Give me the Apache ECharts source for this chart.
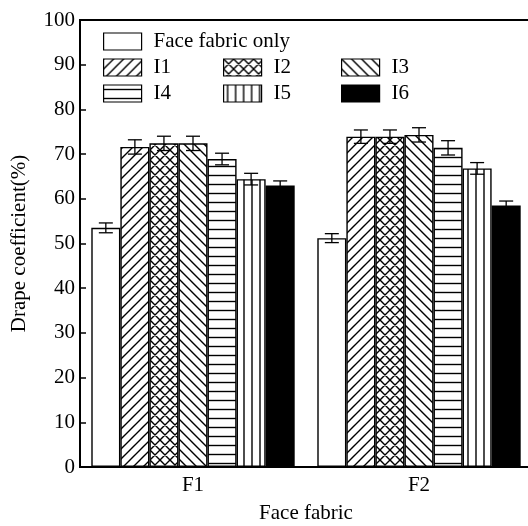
<!DOCTYPE html>
<html>
<head>
<meta charset="utf-8">
<script src="https://cdn.jsdelivr.net/npm/echarts@6/dist/echarts.min.js"></script>
<style>
  html, body { margin: 0; padding: 0; background: #fff; }
  #chart { width: 528px; height: 526px; }
</style>
</head>
<body>
<div id="chart"></div>
<script>
// Drape coefficient by face fabric and interlining
const categories = ['F1', 'F2'];
const seriesNames = ['Face fabric only', 'I1', 'I2', 'I3', 'I4', 'I5', 'I6'];

const faceOnlyValues = [53.5, 51.2];
const i1Values = [71.6, 73.9];
const i2Values = [72.4, 73.9];
const i3Values = [72.4, 74.3];
const i4Values = [68.9, 71.4];
const i5Values = [64.4, 66.8];
const i6Values = [63.0, 58.5];

const faceOnlyErr = [1.1, 1.0];
const i1Err = [1.6, 1.5];
const i2Err = [1.6, 1.5];
const i3Err = [1.6, 1.6];
const i4Err = [1.3, 1.6];
const i5Err = [1.3, 1.3];
const i6Err = [1.0, 1.0];

const yTicks = { min: 0, max: 100, interval: 10 };

const allValues = [faceOnlyValues, i1Values, i2Values, i3Values, i4Values, i5Values, i6Values];
const allErrs = [faceOnlyErr, i1Err, i2Err, i3Err, i4Err, i5Err, i6Err];

const FONT = '"Liberation Serif", "Times New Roman", serif';
const CATEGORY_GAP = 0.10;

// Hatch fill tiles
function hatch(kind) {
  if (kind === 'white') return '#ffffff';
  if (kind === 'black') return '#000000';
  const s = kind === 'horiz' ? 9 : (kind === 'vert' ? 8 : 10);
  const c = document.createElement('canvas');
  c.width = s; c.height = s;
  const g = c.getContext('2d');
  g.fillStyle = '#fff';
  g.fillRect(0, 0, s, s);
  g.strokeStyle = '#000';
  g.lineWidth = 1.4;
  g.beginPath();
  const fwd = () => {
    g.moveTo(-1, s + 1); g.lineTo(s + 1, -1);
    g.moveTo(-1, 1); g.lineTo(1, -1);
    g.moveTo(s - 1, s + 1); g.lineTo(s + 1, s - 1);
  };
  const back = () => {
    g.moveTo(-1, -1); g.lineTo(s + 1, s + 1);
    g.moveTo(s - 1, -1); g.lineTo(s + 1, 1);
    g.moveTo(-1, s - 1); g.lineTo(1, s + 1);
  };
  if (kind === 'fwd') fwd();
  if (kind === 'back') back();
  if (kind === 'cross') { fwd(); back(); }
  if (kind === 'horiz') { g.moveTo(0, s / 2); g.lineTo(s, s / 2); }
  if (kind === 'vert') { g.moveTo(s / 2, 0); g.lineTo(s / 2, s); }
  g.stroke();
  return { image: c, repeat: 'repeat' };
}

const fills = ['white', 'fwd', 'cross', 'back', 'horiz', 'vert', 'black'].map(hatch);

const barSeries = seriesNames.map((name, k) => ({
  name: name,
  type: 'bar',
  data: allValues[k],
  barGap: '0%',
  barCategoryGap: (CATEGORY_GAP * 100) + '%',
  itemStyle: { color: fills[k], borderColor: '#000', borderWidth: 1.4 },
  emphasis: { disabled: true },
  z: 2
}));

// error bar items: [category index, series index, value, error]
const errData = [];
allValues.forEach((vals, k) => {
  vals.forEach((v, c) => errData.push([c, k, v, allErrs[k][c]]));
});

const errSeries = {
  name: 'err',
  type: 'custom',
  data: errData,
  encode: { x: 0, y: 2 },
  z: 10,
  silent: true,
  renderItem: function (params, api) {
    const cat = api.value(0), k = api.value(1), v = api.value(2), e = api.value(3);
    const band = api.size([1, 0])[0];
    const bw = band * (1 - CATEGORY_GAP) / seriesNames.length;
    const base = api.coord([cat, v]);
    const x = base[0] + (k - (seriesNames.length - 1) / 2) * bw;
    const yTop = api.coord([cat, v + e])[1];
    const yBot = api.coord([cat, v - e])[1];
    const hw = 7;
    const st = { stroke: '#000', lineWidth: 1.3 };
    return {
      type: 'group',
      children: [
        { type: 'line', shape: { x1: x, y1: yTop, x2: x, y2: yBot }, style: st },
        { type: 'line', shape: { x1: x - hw, y1: yTop, x2: x + hw, y2: yTop }, style: st },
        { type: 'line', shape: { x1: x - hw, y1: yBot, x2: x + hw, y2: yBot }, style: st }
      ]
    };
  }
};

// legend grid: one row for the face fabric, then two rows of three
const legendPos = [
  [103, 31], [103, 57], [223, 57], [341, 57], [103, 83], [223, 83], [341, 83]
];
const legends = seriesNames.map((name, k) => ({
  data: [name],
  left: legendPos[k][0],
  top: legendPos[k][1],
  padding: 0,
  icon: 'rect',
  itemWidth: 38,
  itemHeight: 17,
  selectedMode: false,
  itemStyle: { borderColor: '#000', borderWidth: 1.2 },
  textStyle: { fontFamily: FONT, fontSize: 21, color: '#000', padding: [0, 0, 0, 7] }
}));

const chart = echarts.init(document.getElementById('chart'), null, { renderer: 'canvas' });
chart.setOption({
  backgroundColor: '#fff',
  animation: false,
  legend: legends,
  grid: {
    left: 80, right: -4, top: 20, bottom: 59,
    outerBoundsMode: 'none',
    containLabel: false,
    show: true, borderColor: '#000', borderWidth: 2, backgroundColor: 'transparent'
  },
  xAxis: {
    type: 'category',
    data: categories,
    name: 'Face fabric',
    nameLocation: 'middle',
    nameGap: 36,
    nameTextStyle: { fontFamily: FONT, fontSize: 21, color: '#000' },
    axisLine: { lineStyle: { color: '#000', width: 2 } },
    axisTick: { show: false },
    axisLabel: { fontFamily: FONT, fontSize: 21, color: '#000', margin: 8 }
  },
  yAxis: {
    type: 'value',
    min: yTicks.min,
    max: yTicks.max,
    interval: yTicks.interval,
    name: 'Drape coefficient(%)',
    nameLocation: 'middle',
    nameRotate: 90,
    nameGap: 50,
    nameTextStyle: { fontFamily: FONT, fontSize: 21, color: '#000' },
    axisLine: { show: true, lineStyle: { color: '#000', width: 2 } },
    axisTick: { show: true, inside: true, length: 6, lineStyle: { color: '#000', width: 1.5 } },
    splitLine: { show: false },
    axisLabel: { fontFamily: FONT, fontSize: 21, color: '#000', margin: 5 }
  },
  series: barSeries.concat([errSeries])
});
</script>
</body>
</html>
